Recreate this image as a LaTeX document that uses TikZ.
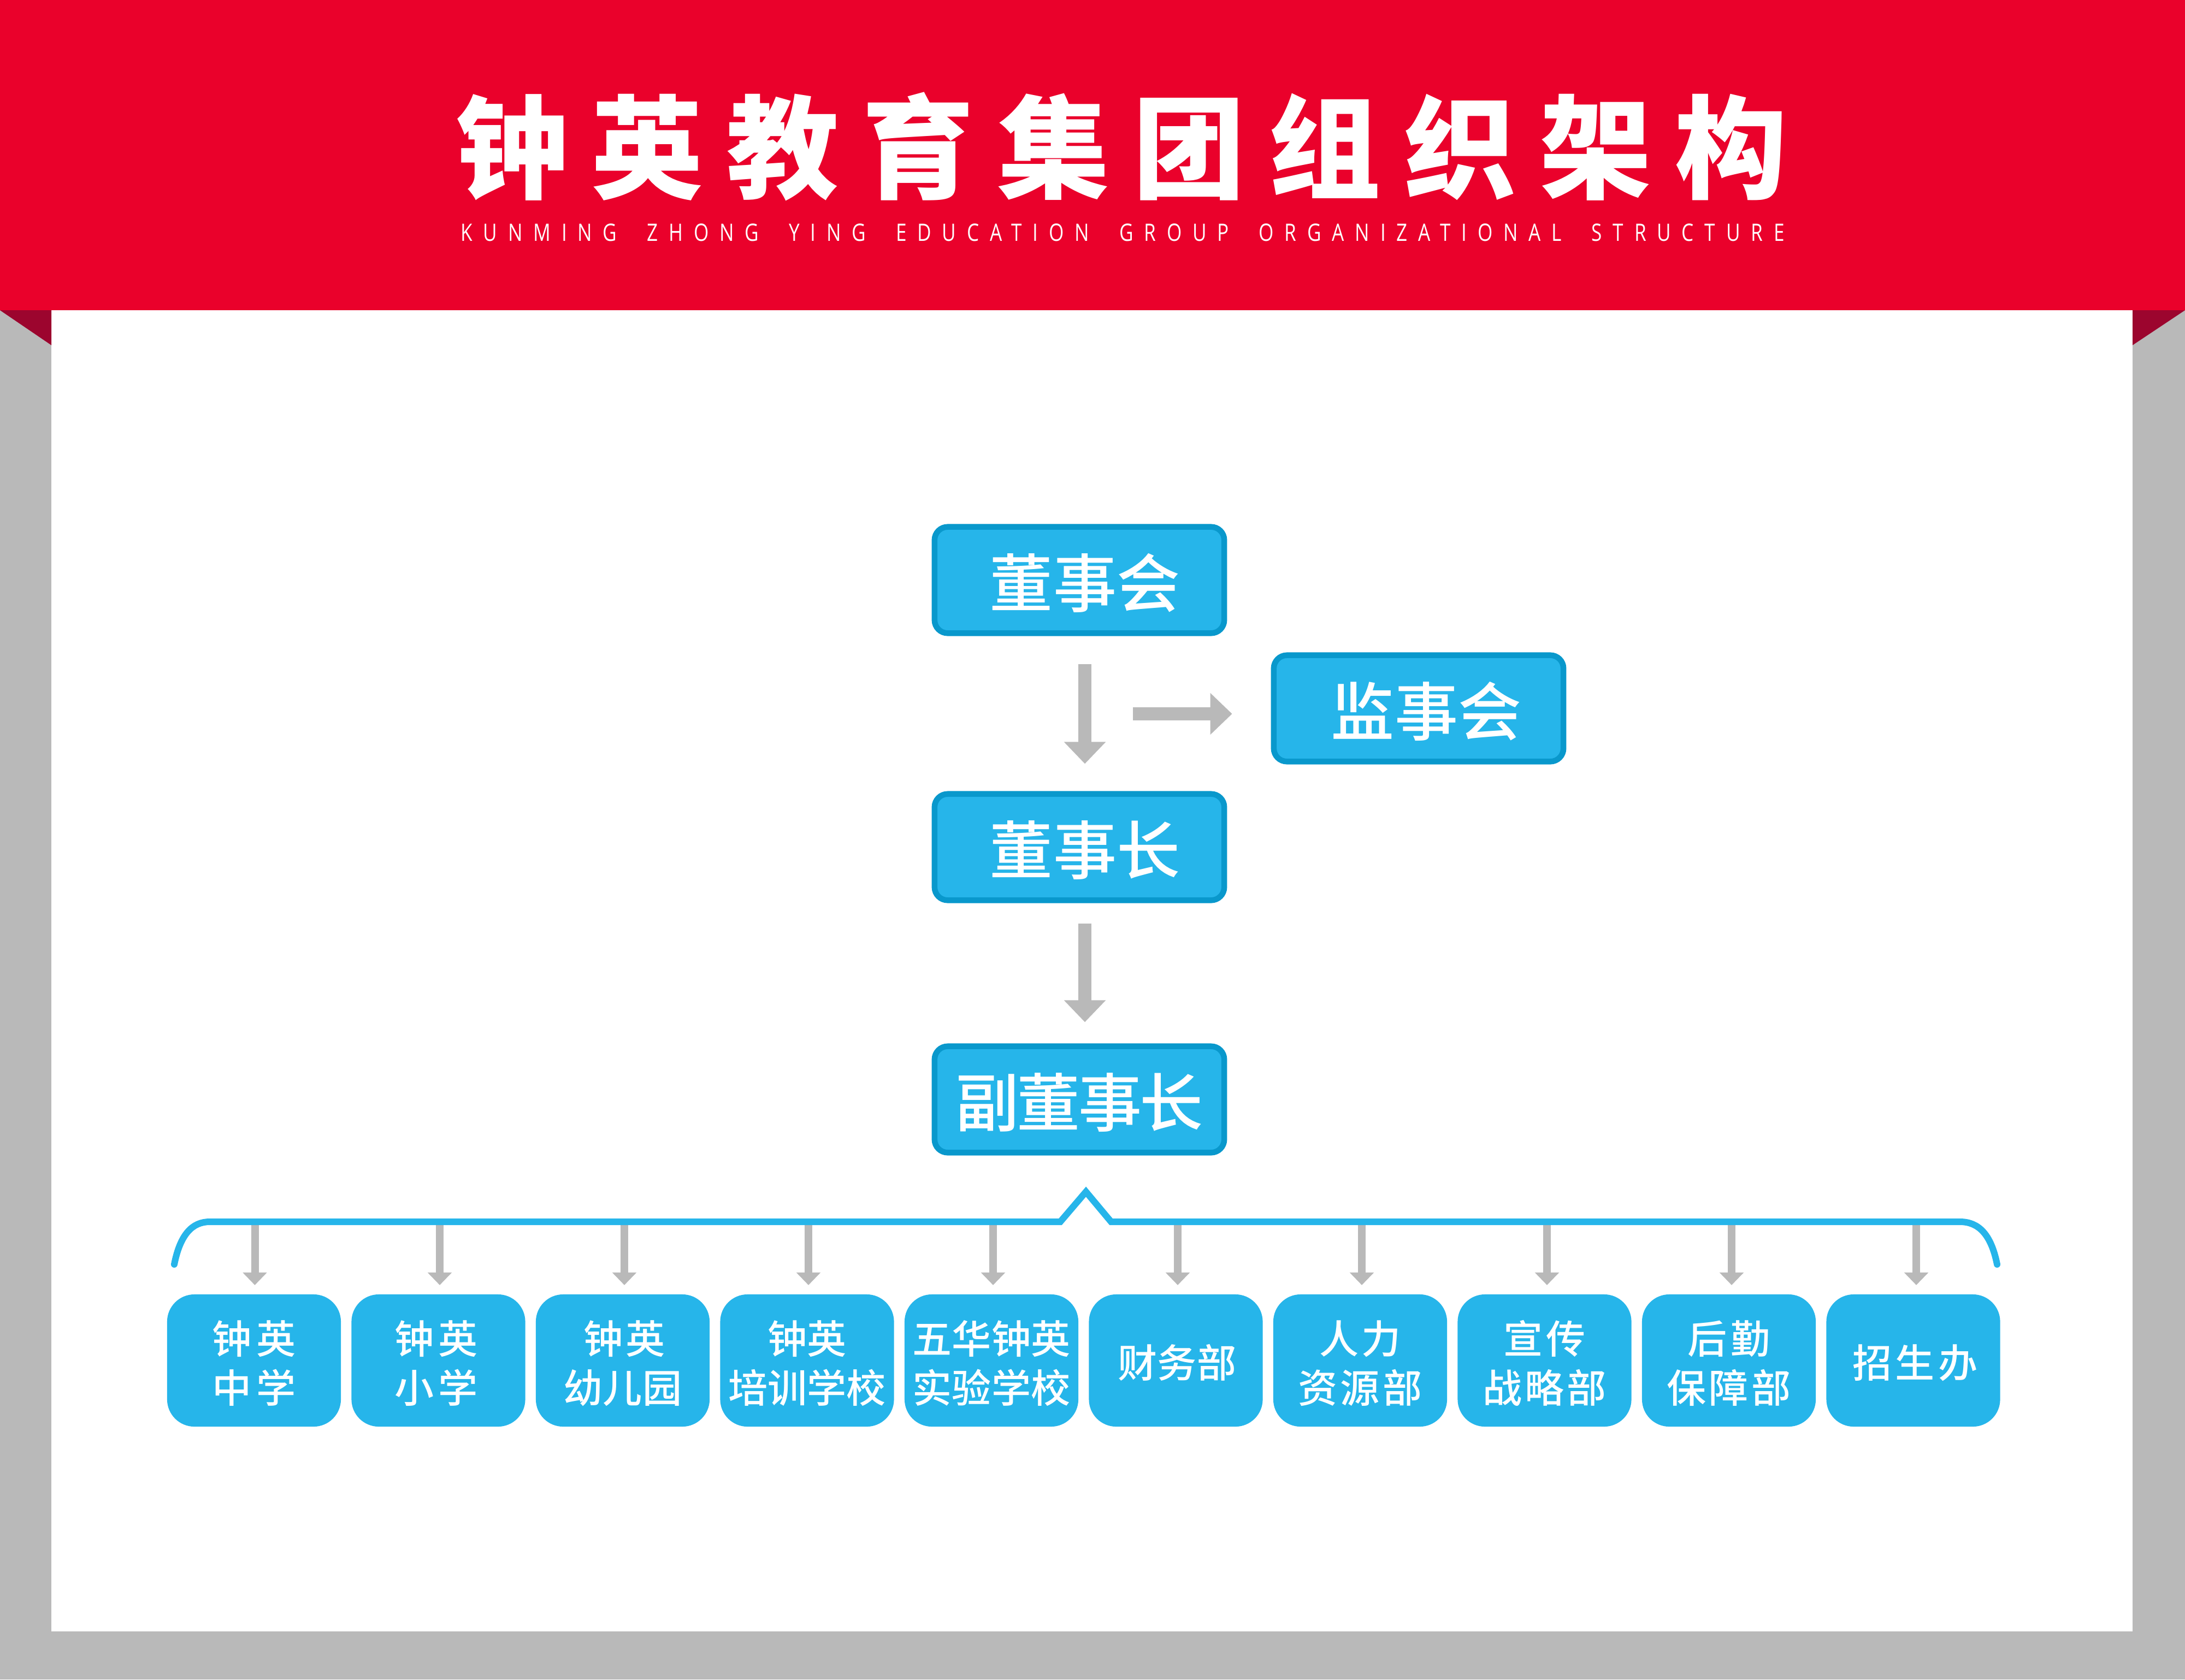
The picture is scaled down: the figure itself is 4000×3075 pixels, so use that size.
\documentclass[tikz,border=0pt]{standalone}
\usepackage{fontspec}
\usetikzlibrary{arrows.meta}
\setmainfont{Open Sans}
\newfontfamily\cjktitle{Noto Sans CJK SC Black}[LetterSpace=21]
\newfontfamily\cjkbox{Noto Sans CJK SC Medium}
\newfontfamily\cjksmall{Noto Sans CJK SC Medium}
\newfontfamily\subfont{Open Sans}[LetterSpace=45,FakeStretch=0.8,WordSpace=1.9]
\definecolor{bandred}{HTML}{EA012B}
\definecolor{folddark}{HTML}{9C052E}
\definecolor{framegray}{HTML}{B9B9B9}
\definecolor{boxblue}{HTML}{26B5EA}
\definecolor{boxedge}{HTML}{0998CC}
\tikzset{
  topbox/.style={draw=boxedge,fill=boxblue,line width=0.105cm,rounded corners=0.24cm,minimum width=5.3cm,minimum height=1.945cm,inner sep=0pt,text=white,text height=0.98cm,text depth=0cm,font=\cjkbox\fontsize{33}{36}\selectfont},
  smallbox/.style={fill=boxblue,rounded corners=0.5cm,minimum width=3.18cm,minimum height=2.42cm,inner sep=0pt,outer sep=0pt,text=white,align=center,text height=1.55cm,text depth=0cm,font=\cjksmall\fontsize{20.5}{25.6}\selectfont},
  singleline/.style={text height=0.62cm,text depth=0cm},
  bigarrow/.style={draw=framegray,line width=0.24cm,-{Triangle[width=0.74cm,length=0.40cm]}},
  smallarrow/.style={draw=framegray,line width=0.14cm,-{Triangle[width=0.43cm,length=0.23cm]}},
  bracketline/.style={draw=boxblue,line width=0.12cm,line join=miter,line cap=round}
}
\begin{document}
\begin{tikzpicture}[x=0.01cm,y=-0.01cm]
\useasboundingbox (0,0) rectangle (4000,3075);
\fill[framegray] (0,0) rectangle (4000,3075);
\fill[white] (94,568) rectangle (3904,2987);
\fill[folddark] (0,568) -- (94,568) -- (94,632) -- cycle;
\fill[folddark] (4000,568) -- (3904,568) -- (3904,632) -- cycle;
\fill[bandred] (0,0) rectangle (4000,568);
\node[text=white,font=\cjktitle\fontsize{58.3}{64}\selectfont,anchor=center] (title) at (2053,268) {钟英教育集团组织架构};
\node[text=white,font=\subfont\fontsize{12.5}{14}\selectfont,anchor=center] (subtitle) at (2055,426) {KUNMING ZHONG YING EDUCATION GROUP ORGANIZATIONAL STRUCTURE};

\node[topbox] (dsh) at (1976,1062) {\hspace{0.2cm}董事会};
\node[topbox] (jsh) at (2597,1297) {\hspace{0.28cm}监事会};
\node[topbox] (dsz) at (1976,1551) {\hspace{0.2cm}董事长};
\node[topbox] (fdsz) at (1976,2013) {\addfontfeature{LetterSpace=-3}副董事长};

\coordinate (branch) at (2074,1307);
\draw[bigarrow,shorten <=0.51cm,shorten >=0.50cm] ([xshift=0.1cm]dsh.south) -- ([xshift=0.1cm]dsz.north);
\draw[bigarrow,shorten >=0.71cm] (branch) -- (branch -| jsh.west);
\draw[bigarrow,shorten <=0.37cm,shorten >=0.39cm] ([xshift=0.1cm]dsz.south) -- ([xshift=0.1cm]fdsz.north);

\node[smallbox] (b1) at (465,2491) {钟\kern0.08cm 英\\中\kern0.08cm 学};
\node[smallbox] (b2) at (802.5,2491) {\hspace{-0.08cm}钟\kern0.08cm 英\\\hspace{-0.08cm}小\kern0.08cm 学};
\node[smallbox] (b3) at (1140,2491) {\hspace{0.06cm}钟\kern0.05cm 英\\幼儿园};
\node[smallbox] (b4) at (1477.5,2491) {钟英\\培训学校};
\node[smallbox] (b5) at (1815,2491) {五华钟英\\实验学校};
\node[smallbox,singleline] (b6) at (2152.5,2491) {\hspace{0.05cm}财务部};
\node[smallbox] (b7) at (2490,2491) {人\kern0.05cm 力\\资\kern0.05cm 源\kern0.05cm 部};
\node[smallbox] (b8) at (2827.5,2491) {宣\kern0.06cm 传\\战\kern0.05cm 略\kern0.05cm 部};
\node[smallbox] (b9) at (3165,2491) {后\kern0.06cm 勤\\保\kern0.05cm 障\kern0.05cm 部};
\node[smallbox,singleline] (b10) at (3502.5,2491) {\hspace{0.07cm}招\kern0.06cm 生\kern0.06cm 办};

\foreach \n/\xa in {1/466.5,2/805,3/1143,4/1480,5/1818,6/2156,7/2493,8/2832,9/3170,10/3508}{
  \coordinate (s\n) at (\xa,2240);
  \draw[smallarrow,shorten >=0.17cm] (s\n) -- (s\n |- b\n.north);
}
\coordinate (bl) at (319,2315);
\coordinate (bl1) at (384,2237);
\coordinate (pl) at (1941,2237);
\coordinate (pk) at (1988,2182);
\coordinate (pr) at (2034,2237);
\coordinate (br1) at (3588,2237);
\coordinate (br) at (3656,2315);
\draw[bracketline] (bl) .. controls (330,2260) and (352,2237) .. (bl1) -- (pl) -- (pk) -- (pr) -- (br1) .. controls (3622,2237) and (3645,2260) .. (br);
\end{tikzpicture}
\end{document}
